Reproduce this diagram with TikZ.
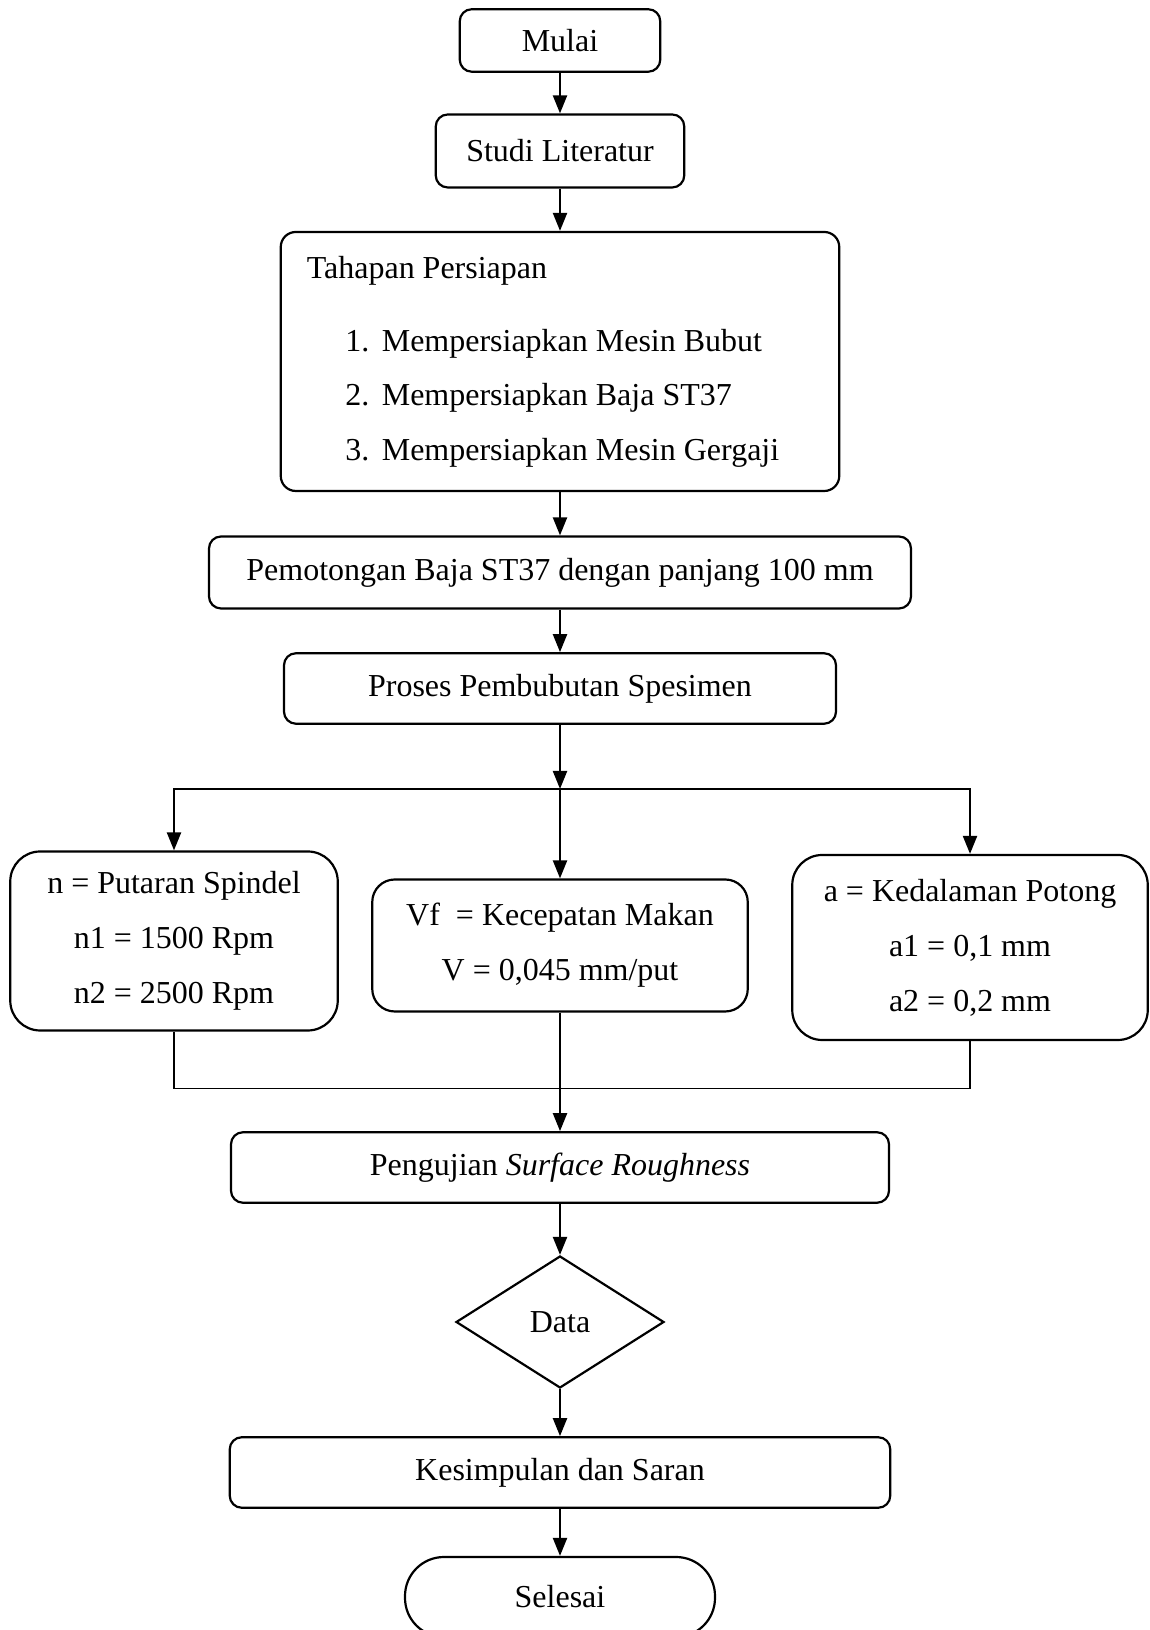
\documentclass[tikz,border=0pt]{standalone}
\usepackage{fontspec}
\setmainfont{Liberation Serif}
\usetikzlibrary{arrows.meta,shapes.geometric}
\tikzset{procBox/.style={rectangle,draw,line width=1.25pt,rounded corners=0.24cm,inner sep=0pt},
		paramBox/.style={procBox,rounded corners=0.6cm,align=center},
		termBox/.style={procBox,rounded corners=0.78cm},
		dataBox/.style={diamond,draw,line width=1.25pt,aspect=1.6,inner sep=0pt},
		itemText/.style={anchor=west,inner sep=0pt},
		flowEdge/.style={-{Triangle[length=0.36cm,width=0.28cm]},line width=1.25pt},
		joinEdge/.style={line width=0.6pt}}

\begin{document}
\begin{tikzpicture}[font={\fontsize{18.2}{31.3}\selectfont}]
		\useasboundingbox (0,0) rectangle (22.98,32.6);
		\node at (11.2,31.79) [procBox,minimum width=4.01cm,minimum height=1.25cm] (mulai){Mulai};
		\node at (11.2,29.58) [procBox,minimum width=4.97cm,minimum height=1.46cm] (studi){Studi Literatur};
		\node at (11.2,25.37) [procBox,rounded corners=0.3cm,minimum width=11.17cm,minimum height=5.18cm] (persiapan){};
		\node at (6.13,27.18) [itemText] (judul){Tahapan Persiapan};
		\node at (6.9,25.72) [itemText] (item1){\makebox[0.73cm][l]{1.}Mempersiapkan Mesin Bubut};
		\node at (6.9,24.64) [itemText] (item2){\makebox[0.73cm][l]{2.}Mempersiapkan Baja ST37};
		\node at (6.9,23.54) [itemText] (item3){\makebox[0.73cm][l]{3.}Mempersiapkan Mesin Gergaji};
		\node at (11.2,21.15) [procBox,minimum width=14.04cm,minimum height=1.44cm] (potong){Pemotongan Baja ST37 dengan panjang 100 mm};
		\node at (11.2,18.83) [procBox,minimum width=11.04cm,minimum height=1.41cm] (bubut){Proses Pembubutan Spesimen};
		%three parameters
		\node at (3.48,13.78) [paramBox,minimum width=6.55cm,minimum height=3.58cm] (putaran){n = Putaran Spindel\\n1 = 1500 Rpm\\n2 = 2500 Rpm};
		\node at (11.2,13.69) [paramBox,rounded corners=0.45cm,minimum width=7.51cm,minimum height=2.64cm] (makan){Vf~ = Kecepatan Makan\\V = 0,045 mm/put};
		\node at (19.4,13.65) [paramBox,minimum width=7.11cm,minimum height=3.7cm] (kedalaman){a = Kedalaman Potong\\a1 = 0,1 mm\\a2 = 0,2 mm};
		\node at (11.2,9.25) [procBox,minimum width=13.16cm,minimum height=1.41cm] (uji){Pengujian \textit{Surface Roughness}};
		\node at (11.2,6.16) [dataBox,minimum width=4.16cm,minimum height=2.64cm] (data){Data};
		\node at (11.2,3.15) [procBox,minimum width=13.21cm,minimum height=1.41cm] (simpul){Kesimpulan dan Saran};
		\node at (11.2,0.66) [termBox,minimum width=6.2cm,minimum height=1.6cm] (selesai){Selesai};
		\coordinate (cabang) at (11.2,16.82);
		\coordinate (gabung) at (11.2,10.83);

		\draw[flowEdge] (mulai) -- (studi);
		\draw[flowEdge] (studi) -- (persiapan);
		\draw[flowEdge] (persiapan) -- (potong);
		\draw[flowEdge] (potong) -- (bubut);
		\draw[flowEdge] (bubut) -- (cabang);
		\draw[flowEdge] (cabang) -| (putaran.north);
		\draw[flowEdge] (cabang) -| (kedalaman.north);
		\draw[flowEdge] (cabang) -- (makan);
		\draw[joinEdge] (putaran.south) |- (gabung) -| (kedalaman.south);
		\draw[flowEdge] (makan) -- (uji);
		\draw[flowEdge] (uji) -- (data);
		\draw[flowEdge] (data) -- (simpul);
		\draw[flowEdge] (simpul) -- (selesai);
\end{tikzpicture}
\end{document}
